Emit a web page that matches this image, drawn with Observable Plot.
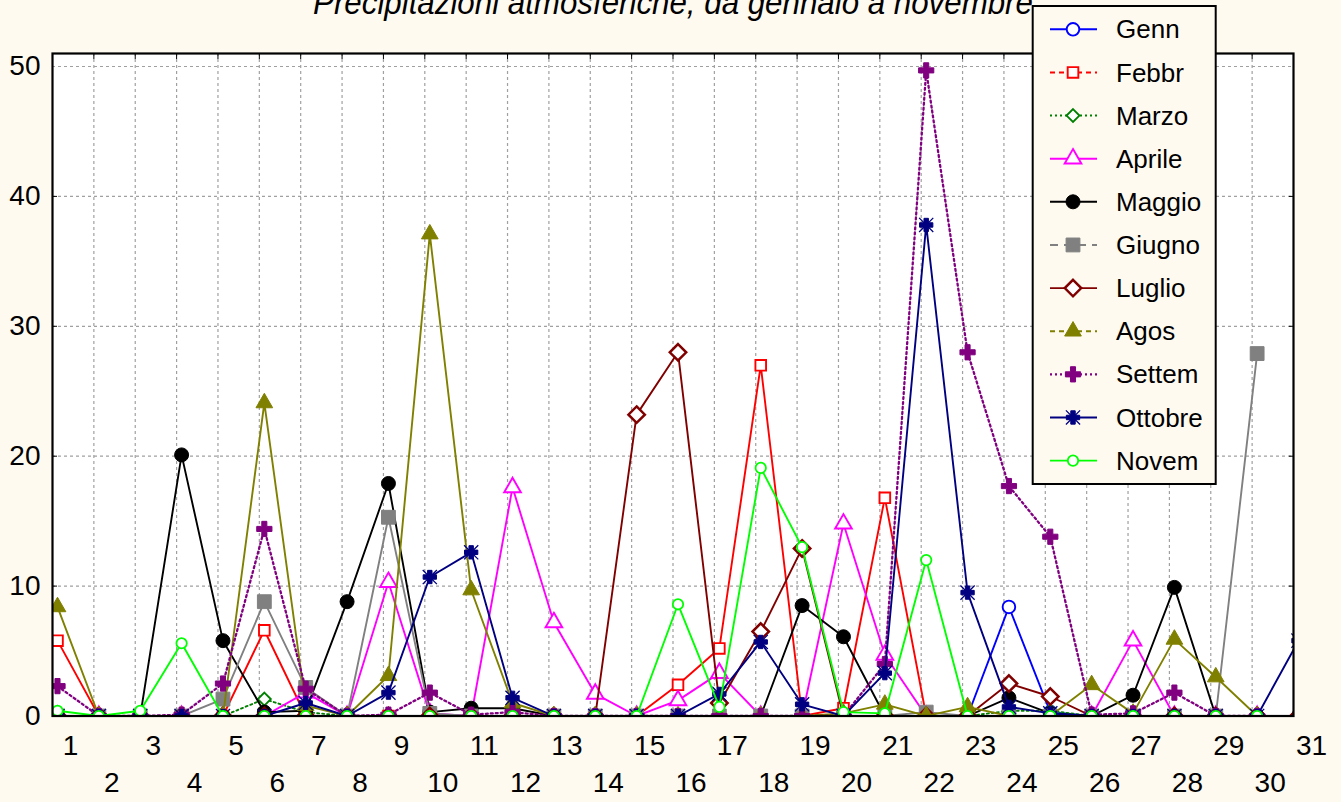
<!DOCTYPE html>
<html><head><meta charset="utf-8">
<script src="https://cdn.jsdelivr.net/npm/d3@7"></script>
<script src="https://cdn.jsdelivr.net/npm/@observablehq/plot@0.6"></script>
<style>
html,body{margin:0;padding:0;background:#FFFAF0;width:1341px;height:802px;overflow:hidden;}
#wrap{position:relative;width:1341px;height:802px;}
#chart{position:absolute;left:0;top:0;}
#title{position:absolute;left:0;width:1346px;top:-15px;line-height:34px;text-align:center;font-style:italic;font-size:34px;font-family:"Liberation Sans",Arial,sans-serif;color:#000;white-space:nowrap;transform:scaleX(0.92);transform-origin:673px 0;}
#legend{position:absolute;left:1031px;top:5px;}
</style></head><body>
<div id="wrap"><div id="chart"></div><div id="title">Precipitazioni atmosferiche, da gennaio a novembre</div><svg id="legend"></svg></div>
<script>
// ---- data ----
const days = d3.range(1, 32);
const seriesNames = ["Genn","Febbr","Marzo","Aprile","Maggio","Giugno","Luglio","Agos","Settem","Ottobre","Novem"];
const genn    = [0,0,0,0,0,0,0,0,0,0,0,0,0,0,0,0,0,0,0,0,0,0,0,8.4,0.3,0,0,0,0,0,0];
const febbr   = [5.8,0,0,0,0,6.6,0,0,0,0,0,0,0,0,0,2.4,5.2,27.0,0,0.6,16.8,0,0,0,0,0,0,0];
const marzo   = [0,0,0,0,0,1.3,0.3,0,0,0,0,0,0,0,0,0,0,0,0,0,0,0,0,0.4,0.4,0,0,0,0,0,0];
const aprile  = [0,0,0,0,0,0,1.8,0,10.3,0.2,0,17.6,7.2,1.7,0,1.2,3.3,0,0,14.8,4.7,0,0,0,0,0,5.8,0,0,0];
const maggio  = [0,0,0,20.1,5.8,0.3,0.4,8.8,17.9,0.3,0.6,0.6,0,0,0,0,0,0,8.5,6.1,0,0,0,1.4,0.2,0,1.6,9.9,0,0,0];
const giugno  = [0,0,0,0,1.3,8.8,2.2,0,15.3,0.2,0,0,0,0,0,0,0,0,0,0,0,0.3,0,0,0,0,0,0,0,27.9];
const luglio  = [0,0,0,0,0,0,0,0,0,0,0,0,0,0,23.2,28.0,1.0,6.5,12.9,0,0,0,0,2.5,1.5,0,0,0,0,0,0];
const agos    = [8.4,0,0,0,0,24.1,0.8,0,3.1,37.1,9.7,1.0,0,0,0,0,0,0,0,0.2,0.9,0,0.7,0,0,2.4,0.2,5.9,3.0,0,0];
const settem  = [2.3,0,0,0.1,2.5,14.4,2.1,0,0.1,1.8,0.1,0.3,0,0,0,0,0,0,0,0,4.0,49.7,28.0,17.7,13.8,0.1,0.2,1.8,0,0];
const ottobre = [0,0,0,0,0,0,1.0,0,1.8,10.7,12.6,1.4,0,0,0,0,1.7,5.7,0.9,0,3.3,37.8,9.5,0.7,0.2,0,0,0,0,0,5.8];
const novem   = [0.4,0,0.4,5.6,0,0,0,0,0,0,0,0,0,0,0,8.6,0.7,19.1,13.0,0.3,0.2,12.0,0,0,0,0,0,0,0,0];
const yTicks = [0,10,20,30,40,50];
const xTicks = d3.range(1, 32);
const title = "Precipitazioni atmosferiche, da gennaio a novembre";

// ---- styles ----
const values = [genn,febbr,marzo,aprile,maggio,giugno,luglio,agos,settem,ottobre,novem];
const colors = ["#0000FF","#FF0000","#008000","#FF00FF","#000000","#808080","#800000","#808000","#800080","#000080","#00FF00"];
const styles = [
  {symbol:"circle",   r:6.3, filled:false, sw:1.9, lw:1.9, dash:null,  legDash:null},
  {symbol:"square",   r:6.0, filled:false, sw:1.9, lw:1.9, dash:null,  legDash:"5,4"},
  {symbol:"diamond2", r:5.8, filled:false, sw:1.9, lw:1.9, dash:"2,3", legDash:"2,3"},
  {symbol:"triangle", r:6.2, filled:false, sw:1.9, lw:1.9, dash:null,  legDash:null},
  {symbol:"circle",   r:7.0, filled:true,  sw:1,   lw:1.9, dash:null,  legDash:null},
  {symbol:"square",   r:7.8, filled:true,  sw:1,   lw:1.9, dash:null,  legDash:"8,6"},
  {symbol:"diamond2", r:7.4, filled:false, sw:2.5, lw:1.9, dash:null,  legDash:null},
  {symbol:"triangle", r:6.2, filled:true,  sw:1,   lw:1.9, dash:null,  legDash:"5,4"},
  {symbol:"cross",    r:6.4, filled:true,  sw:1,   lw:2.3, dash:"2,3", legDash:"2,3"},
  {symbol:"cross",    r:5.6, filled:true,  sw:1,   lw:1.9, dash:null,  legDash:null},
  {symbol:"circle",   r:5.2, filled:false, sw:1.8, lw:1.9, dash:null,  legDash:null}
];

const rows = [];
values.forEach((arr, i) => arr.forEach((v, j) => rows.push({month: seriesNames[i], day: days[j], value: v})));

const gridStyle = {stroke:"#A0A0A0", strokeOpacity:1, strokeDasharray:"3,3", strokeWidth:1.2};
const marks = [
  Plot.frame({fill:"white", stroke:null}),
  Plot.gridY([10,20,30,40,50], gridStyle),
  Plot.gridX(d3.range(2, 31), gridStyle)
];
seriesNames.forEach((name, i) => {
  const data = rows.filter(r => r.month === name);
  const s = styles[i];
  marks.push(Plot.line(data, {x:"day", y:"value", stroke:colors[i], strokeWidth:s.lw, strokeDasharray:s.dash, dx:5, clip:true}));
  marks.push(Plot.dot(data, {x:"day", y:"value", symbol:s.symbol, r:s.r, fill: s.filled ? colors[i] : "white", stroke:colors[i], strokeWidth:s.sw, dx:5, clip:true}));
  if (name === "Ottobre") marks.push(Plot.dot(data, {x:"day", y:"value", symbol:"times", r:6.5, stroke:colors[i], strokeWidth:1.3, dx:5, clip:true}));
});
marks.push(
  Plot.frame({stroke:"black", strokeWidth:2.2}),
  Plot.axisY(yTicks, {anchor:"left", tickSize:0, tickPadding:12, fontSize:28, label:null}),
  Plot.axisY([10,20,30,40], {anchor:"left", tickSize:-5, tickFormat:() => "", label:null}),
  Plot.axisY([10,20,30,40], {anchor:"right", tickSize:-5, tickFormat:() => "", label:null}),
  Plot.axisX(xTicks, {anchor:"top", tickSize:-5, tickFormat:() => "", label:null}),
  Plot.axisX(xTicks.filter(d => d % 2 === 1), {anchor:"bottom", tickSize:0, tickPadding:19, dx:18, fontSize:28, label:null}),
  Plot.axisX(xTicks.filter(d => d % 2 === 0), {anchor:"bottom", tickSize:0, tickPadding:56, dx:18, fontSize:28, label:null})
);

const chart = Plot.plot({
  width:1341, height:802,
  marginLeft:52, marginRight:48, marginTop:53, marginBottom:86.5,
  x:{domain:[1,31], axis:null},
  y:{domain:[0,51], axis:null},
  style:{background:"transparent", fontFamily:'"Liberation Sans",Arial,sans-serif', color:"black", overflow:"visible"},
  marks
});
document.getElementById("chart").appendChild(chart);
document.getElementById("title").textContent = title;

// ---- legend ----
const symMap = {circle:d3.symbolCircle, square:d3.symbolSquare, diamond2:d3.symbolDiamond2, triangle:d3.symbolTriangle, cross:d3.symbolCross, times:d3.symbolTimes};
const lg = d3.select("#legend").attr("width", 188).attr("height", 482);
lg.append("rect").attr("x",1.7).attr("y",1).attr("width",183).attr("height",478)
  .attr("fill","#FFFAF0").attr("stroke","black").attr("stroke-width",2);
seriesNames.forEach((name, i) => {
  const s = styles[i];
  const cy = 24.3 + 43.13 * i;
  const g = lg.append("g").attr("transform", `translate(0,${cy})`);
  g.append("line").attr("x1",19).attr("x2",66).attr("y1",0).attr("y2",0)
    .attr("stroke",colors[i]).attr("stroke-width",s.lw).attr("stroke-dasharray",s.legDash);
  g.append("path").attr("transform","translate(42,0)")
    .attr("d", d3.symbol(symMap[s.symbol], Math.PI * s.r * s.r)())
    .attr("fill", s.filled ? colors[i] : "white").attr("stroke", colors[i]).attr("stroke-width", s.sw);
  if (name === "Ottobre") g.append("path").attr("transform","translate(42,0)")
    .attr("d", d3.symbol(d3.symbolTimes, Math.PI*6.5*6.5)()).attr("fill","none").attr("stroke",colors[i]).attr("stroke-width",1.3);
  g.append("text").attr("x",85).attr("y",0).attr("dy","0.35em").text(name)
    .attr("font-family",'"Liberation Sans",Arial,sans-serif').attr("font-size",26).attr("fill","black");
});
</script>
</body></html>
